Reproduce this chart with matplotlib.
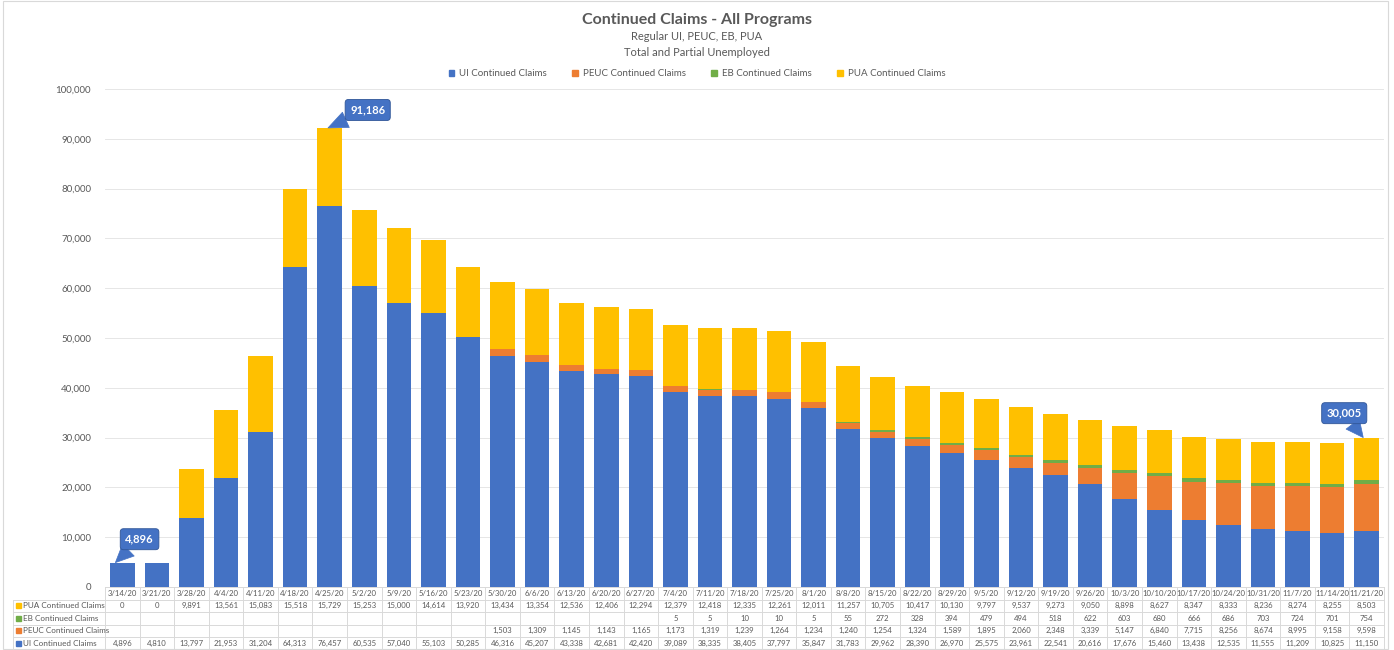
import matplotlib
matplotlib.use("Agg")
import matplotlib.pyplot as plt
from matplotlib.transforms import blended_transform_factory
from matplotlib.lines import Line2D
from matplotlib.patches import Rectangle
import numpy as np

plt.rcParams['font.family'] = ['Lato', 'DejaVu Sans']

dates = ["3/14/20", "3/21/20", "3/28/20", "4/4/20", "4/11/20", "4/18/20", "4/25/20",
         "5/2/20", "5/9/20", "5/16/20", "5/23/20", "5/30/20", "6/6/20", "6/13/20",
         "6/20/20", "6/27/20", "7/4/20", "7/11/20", "7/18/20", "7/25/20", "8/1/20",
         "8/8/20", "8/15/20", "8/22/20", "8/29/20", "9/5/20", "9/12/20", "9/19/20",
         "9/26/20", "10/3/20", "10/10/20", "10/17/20", "10/24/20", "10/31/20",
         "11/7/20", "11/14/20", "11/21/20"]

ui = [4896, 4810, 13797, 21953, 31204, 64313, 76457, 60535, 57040, 55103, 50285,
      46316, 45207, 43338, 42681, 42420, 39089, 38335, 38405, 37797, 35847, 31783,
      29962, 28390, 26970, 25575, 23961, 22541, 20616, 17676, 15460, 13438, 12535,
      11555, 11209, 10825, 11150]
peuc = [None] * 11 + [1503, 1309, 1145, 1143, 1165, 1173, 1319, 1239, 1264, 1234,
                      1240, 1254, 1324, 1589, 1895, 2060, 2348, 3339, 5147, 6840,
                      7715, 8256, 8674, 8995, 9158, 9598]
eb = [None] * 16 + [5, 5, 10, 10, 5, 55, 272, 328, 394, 479, 494, 518, 622, 603,
                    680, 666, 686, 703, 724, 701, 754]
pua = [0, 0, 9891, 13561, 15083, 15518, 15729, 15253, 15000, 14614, 13920, 13434,
       13354, 12536, 12406, 12294, 12379, 12418, 12335, 12261, 12011, 11257, 10705,
       10417, 10130, 9797, 9537, 9273, 9050, 8898, 8627, 8347, 8333, 8236, 8274,
       8255, 8503]

series_names = ["UI Continued Claims", "PEUC Continued Claims", "EB Continued Claims",
                "PUA Continued Claims"]
colors = ["#4472C4", "#ED7D31", "#70AD47", "#FFC000"]

callouts = [(0, "4,896"), (6, "91,186"), (36, "30,005")]

W, H = 1394, 650
fig = plt.figure(figsize=(W / 100, H / 100), dpi=100)
ax = fig.add_axes([105 / W, 1 - 587 / H, (1384 - 105) / W, (587 - 89) / H])

x = np.arange(len(dates))
vals = [np.array([v or 0 for v in s], dtype=float) for s in (ui, peuc, eb, pua)]
bottom = np.zeros(len(dates))
for v, c, n in zip(vals, colors, series_names):
    ax.bar(x, v, width=0.71, bottom=bottom, color=c, label=n, zorder=2)
    bottom += v
totals = bottom

ax.set_xlim(-0.5, len(dates) - 0.5)
ax.set_ylim(0, 100000)
ax.set_yticks(np.arange(0, 100001, 10000))
ax.yaxis.set_major_formatter(matplotlib.ticker.FuncFormatter(lambda v, p: f"{int(v):,}"))
ax.tick_params(axis='y', length=0, labelsize=7, labelcolor="#595959", pad=10)
ax.set_xticks([])
ax.grid(axis='y', color="#E6E6E6", linewidth=0.7, zorder=0)
for s in ax.spines.values():
    s.set_visible(False)

# callouts
offsets = {0: (0.5, 4700), 6: (1.1, 3600), 36: (-0.65, 4900)}
tips = {0: -0.2, 6: -0.05, 36: -0.1}
for idx, label in callouts:
    dx, dy = offsets[idx]
    ax.annotate(label, xy=(idx + tips[idx], totals[idx]), xytext=(idx + dx, totals[idx] + dy),
                ha='center', va='center', color='white', fontsize=8, fontweight='bold',
                bbox=dict(boxstyle="round,pad=0.45,rounding_size=0.3", fc="#4472C4",
                          ec="#2F5597", lw=0.6),
                arrowprops=dict(arrowstyle="wedge,tail_width=1.5,shrink_factor=0.5",
                                fc="#4472C4", ec="#4472C4", lw=0.5, shrinkA=0, shrinkB=0),
                zorder=5)

# titles
fig.text(0.5, 1 - 20 / H, "Continued Claims - All Programs", ha='center', va='center',
         fontsize=11.5, fontweight='bold', color="#595959")
fig.text(0.5, 1 - 37 / H, "Regular UI, PEUC, EB, PUA", ha='center', va='center',
         fontsize=8, color="#595959")
fig.text(0.5, 1 - 52 / H, "Total and Partial Unemployed", ha='center', va='center',
         fontsize=8, color="#595959")

handles = [Rectangle((0, 0), 1, 1, color=c) for c in colors]
fig.legend(handles, series_names, loc='center', bbox_to_anchor=(0.5, 1 - 74 / H),
           ncol=4, frameon=False, fontsize=7, handlelength=0.6, handleheight=0.6,
           columnspacing=2.6, handletextpad=0.5, labelcolor="#595959")

# data table
tr = blended_transform_factory(ax.transData, fig.transFigure)
figtr = fig.transFigure
line_c = "#D9D9D9"
txt_c = "#595959"
tfs = 5.6
def fy(py):
    return 1 - py / H

row_edges = [587, 599.5, 612, 624.5, 637, 649]
# header
for i, d in enumerate(dates):
    fig.text(i, fy(593.5), d, transform=tr, ha='center', va='center', fontsize=tfs, color=txt_c)
table_rows = [("PUA Continued Claims", pua, colors[3]),
              ("EB Continued Claims", eb, colors[2]),
              ("PEUC Continued Claims", peuc, colors[1]),
              ("UI Continued Claims", ui, colors[0])]
for r, (name, data, c) in enumerate(table_rows):
    yc = (row_edges[r + 1] + row_edges[r + 2]) / 2
    fig.patches.append(Rectangle((16 / W, fy(yc + 2.5)), 5 / W, 5 / H, transform=figtr,
                                 color=c, figure=fig))
    fig.text(23 / W, fy(yc), name, transform=figtr, ha='left', va='center',
             fontsize=5.9, color=txt_c)
    for i, v in enumerate(data):
        if v is not None:
            fig.text(i, fy(yc), f"{v:,}", transform=tr, ha='center', va='center',
                     fontsize=tfs, color=txt_c)

# table lines
for k, ye in enumerate(row_edges):
    x0 = 105 / W if k == 0 else 13 / W
    fig.add_artist(Line2D([x0, 1384 / W], [fy(ye), fy(ye)], transform=figtr,
                          color=line_c, lw=0.7))
for i in range(len(dates) + 1):
    xe = i - 0.5
    fig.add_artist(Line2D([xe, xe], [fy(587), fy(649)], transform=tr, color=line_c, lw=0.7))
fig.add_artist(Line2D([13 / W, 13 / W], [fy(599.5), fy(649)], transform=figtr,
                      color=line_c, lw=0.7))

# chart border
fig.add_artist(Rectangle((3 / W, 1 / H), 1385 / W, 648 / H, transform=figtr, fill=False,
                         ec="#D9D9D9", lw=0.8))

fig.savefig("out.png", dpi=100, facecolor="white")
